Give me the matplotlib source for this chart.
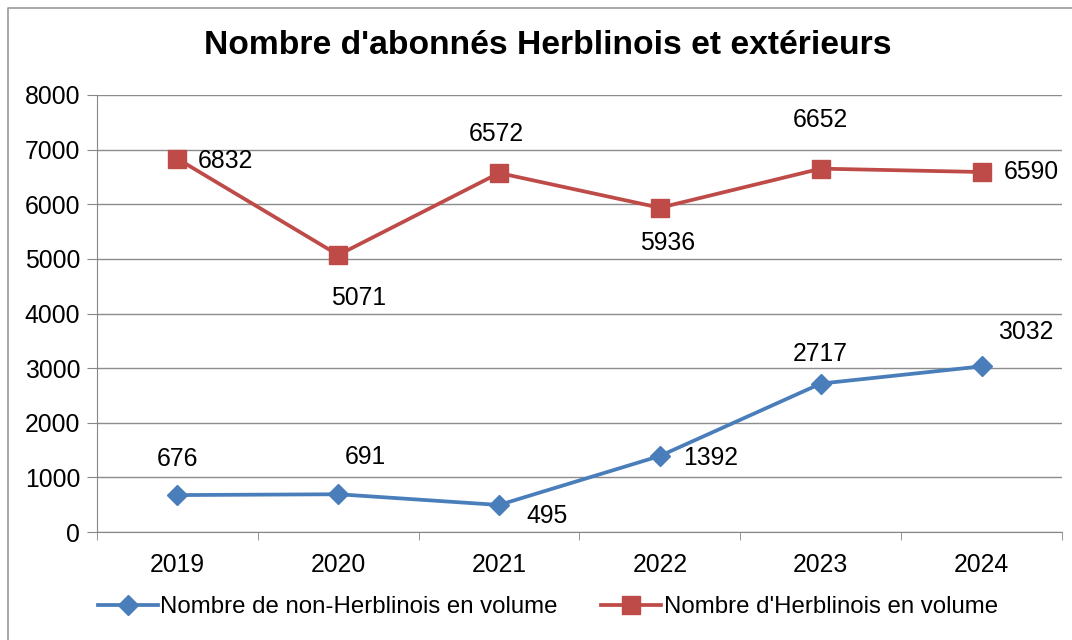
import matplotlib.pyplot as plt
from matplotlib.lines import Line2D

plt.rcParams['font.family'] = ['Liberation Sans', 'DejaVu Sans']

# Données
annees = ["2019", "2020", "2021", "2022", "2023", "2024"]
non_herblinois = [676, 691, 495, 1392, 2717, 3032]
herblinois = [6832, 5071, 6572, 5936, 6652, 6590]
noms = ["Nombre de non-Herblinois en volume", "Nombre d'Herblinois en volume"]

# Décalages des étiquettes (pixels) et alignement
dec_bleu = [(0, 36, "center"), (27, 37, "center"), (27, -11, "left"),
            (23, -2, "left"), (0, 30, "center"), (44, 34, "center")]
dec_rouge = [(20, -2, "left"), (20, -43, "center"), (-3, 39, "center"),
             (8, -35, "center"), (0, 49, "center"), (22, 0, "left")]

bleu = "#4a7ebb"
rouge = "#be4b48"
fs = 17.8

fig = plt.figure(figsize=(10.72, 6.4), dpi=100)
ax = fig.add_axes([97/1072, 108/640, 965/1072, 437/640])

x = list(range(len(annees)))
l1, = ax.plot(x, non_herblinois, color=bleu, lw=2.7, marker="D", ms=10, zorder=3)
l2, = ax.plot(x, herblinois, color=rouge, lw=2.7, marker="s", ms=13, zorder=3)

for serie, decs in ((non_herblinois, dec_bleu), (herblinois, dec_rouge)):
    for xi, v, (dx, dy, ha) in zip(x, serie, decs):
        ax.annotate(str(v), (xi, v), xytext=(dx, dy), textcoords="offset pixels",
                    ha=ha, va="center", fontsize=fs, color="black")

ax.set_xlim(-0.5, 5.5)
ax.set_ylim(0, 8000)
ax.set_yticks(range(0, 8001, 1000))
ax.set_xticks(x)
ax.set_xticklabels(annees)
ax.set_xticks([i - 0.5 for i in range(len(annees) + 1)], minor=True)
ax.tick_params(axis="x", which="major", length=0, pad=15, labelsize=fs)
ax.tick_params(axis="x", which="minor", length=6, color="#868686")
ax.tick_params(axis="y", length=7, color="#868686", pad=5, labelsize=fs)

ax.grid(axis="y", color="#8c8c8c", lw=1)
ax.set_axisbelow(True)
for s in ("top", "right"):
    ax.spines[s].set_visible(False)
for s in ("left", "bottom"):
    ax.spines[s].set_color("#868686")

fig.text(0.511, 1 - 45/640, "Nombre d'abonnés Herblinois et extérieurs",
         ha="center", va="center", fontsize=24.2, fontweight="bold")

fig.legend([l1, l2], noms, loc="center", bbox_to_anchor=(0.511, 1 - 607/640),
           ncol=2, frameon=False, fontsize=17.3, handlelength=2.5,
           handletextpad=0.1, columnspacing=1.8)

# Cadre du graphique (haut et gauche)
fig.add_artist(Line2D([8/1072, 8/1072, 1], [0, 1 - 8/640, 1 - 8/640],
                      transform=fig.transFigure, color="#9a9a9a", lw=1.2))

fig.savefig("out.png", dpi=100)
